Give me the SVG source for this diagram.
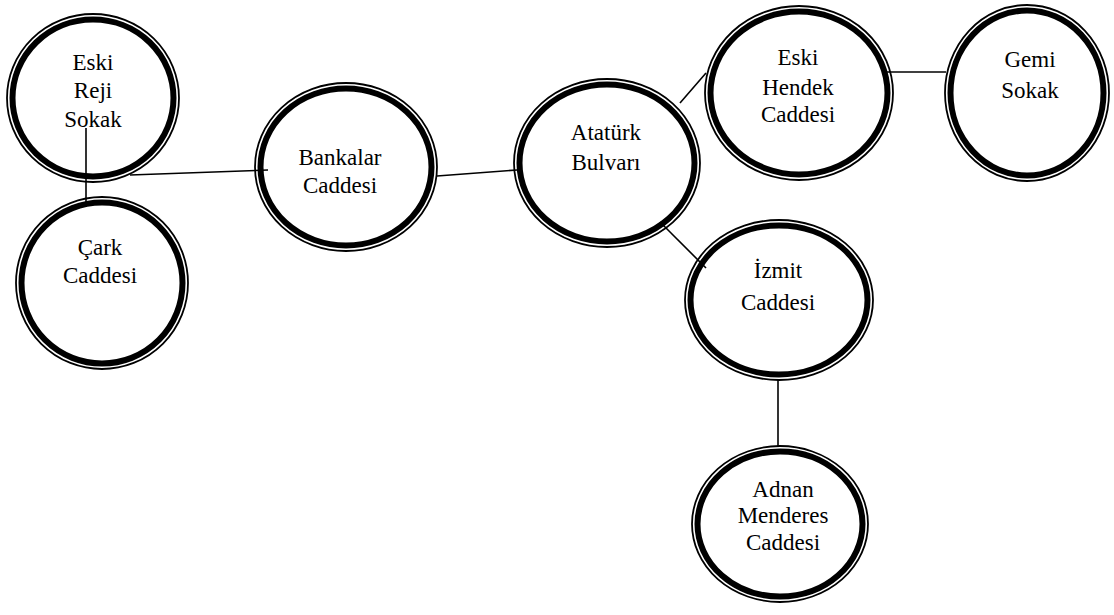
<svg xmlns="http://www.w3.org/2000/svg" width="1114" height="615" viewBox="0 0 1114 615">
<style>
.o{fill:none;stroke:#000;stroke-width:1.8}
.i{fill:none;stroke:#000;stroke-width:6}
.t{font-family:'Liberation Serif','DejaVu Serif',serif;font-size:23px;fill:#000;text-anchor:middle}
.c{fill:none;stroke:#000;stroke-width:1.6}
</style>
<rect width="1114" height="615" fill="#fff"/>
<g id="connectors">
<line class="c" x1="86" y1="128" x2="86" y2="203"/>
<line class="c" x1="130" y1="175" x2="268" y2="170"/>
<line class="c" x1="437" y1="176" x2="517" y2="170"/>
<line class="c" x1="680" y1="103" x2="706" y2="73"/>
<line class="c" x1="887" y1="72" x2="946" y2="72"/>
<line class="c" x1="660" y1="222" x2="706" y2="268"/>
<line class="c" x1="778" y1="380" x2="778" y2="447"/>
</g>
<g id="eski-reji">
<ellipse class="o" cx="93" cy="98" rx="86" ry="84"/>
<ellipse class="i" cx="93" cy="98" rx="80.5" ry="78.5"/>
<text class="t" x="93" y="70">Eski</text>
<text class="t" x="93" y="98">Reji</text>
<text class="t" x="93" y="127">Sokak</text>
</g>
<g id="cark">
<ellipse class="o" cx="102" cy="283" rx="86" ry="86"/>
<ellipse class="i" cx="102" cy="283" rx="80.5" ry="80.5"/>
<text class="t" x="100" y="255">Çark</text>
<text class="t" x="100" y="283">Caddesi</text>
</g>
<g id="bankalar">
<ellipse class="o" cx="346" cy="167" rx="91" ry="84"/>
<ellipse class="i" cx="346" cy="167" rx="85.5" ry="78.5"/>
<text class="t" x="340" y="165">Bankalar</text>
<text class="t" x="340" y="193">Caddesi</text>
</g>
<g id="ataturk">
<ellipse class="o" cx="607" cy="163" rx="93" ry="84"/>
<ellipse class="i" cx="607" cy="163" rx="87.5" ry="78.5"/>
<text class="t" x="606" y="140">Atatürk</text>
<text class="t" x="606" y="170">Bulvarı</text>
</g>
<g id="eski-hendek">
<ellipse class="o" cx="799" cy="93" rx="94" ry="87"/>
<ellipse class="i" cx="799" cy="93" rx="88.5" ry="81.5"/>
<text class="t" x="798" y="65">Eski</text>
<text class="t" x="798" y="95">Hendek</text>
<text class="t" x="798" y="122">Caddesi</text>
</g>
<g id="gemi">
<ellipse class="o" cx="1027" cy="93" rx="82" ry="88"/>
<ellipse class="i" cx="1027" cy="93" rx="76.5" ry="82.5"/>
<text class="t" x="1030" y="67">Gemi</text>
<text class="t" x="1030" y="98">Sokak</text>
</g>
<g id="izmit">
<ellipse class="o" cx="779" cy="300" rx="94" ry="80"/>
<ellipse class="i" cx="779" cy="300" rx="88.5" ry="74.5"/>
<text class="t" x="778" y="278">İzmit</text>
<text class="t" x="778" y="310">Caddesi</text>
</g>
<g id="adnan">
<ellipse class="o" cx="780" cy="524" rx="88" ry="78"/>
<ellipse class="i" cx="780" cy="524" rx="82.5" ry="72.5"/>
<text class="t" x="783" y="497">Adnan</text>
<text class="t" x="783" y="523">Menderes</text>
<text class="t" x="783" y="550">Caddesi</text>
</g>
</svg>
